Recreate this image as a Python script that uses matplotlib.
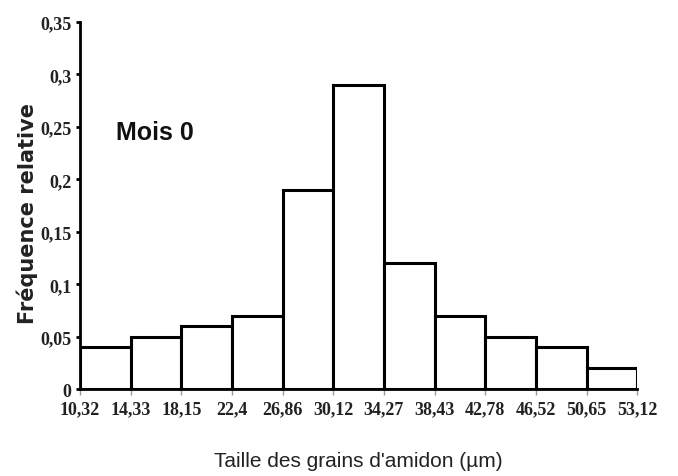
import numpy as np
from matplotlib import pyplot as plt

# bin edges (µm) and relative frequencies
edges = ["10,32", "14,33", "18,15", "22,4", "26,86", "30,12", "34,27",
         "38,43", "42,78", "46,52", "50,65", "53,12"]
freq = [0.04, 0.05, 0.06, 0.07, 0.19, 0.29, 0.12, 0.07, 0.05, 0.04, 0.02]
yticks = [0, 0.05, 0.1, 0.15, 0.2, 0.25, 0.3, 0.35]
ytick_labels = ["0", "0,05", "0,1", "0,15", "0,2", "0,25", "0,3", "0,35"]

fig = plt.figure(figsize=(6.78, 4.77), dpi=100)
ax = fig.add_axes([0.118, 0.182, 0.822, 0.770])

x = np.arange(len(freq))
ax.bar(x, freq, width=1.0, align='edge', color='white',
       edgecolor='black', linewidth=2.2)

ax.set_xlim(0, len(freq))
ax.set_ylim(0, 0.35)
ax.set_xticks(np.arange(len(edges)))
ax.set_xticklabels(edges, family=['Liberation Serif', 'DejaVu Serif'],
                   fontsize=13, fontweight='bold', color='#222222')
ax.set_yticks(yticks)
ax.set_yticklabels(ytick_labels, family=['Liberation Serif', 'DejaVu Serif'],
                   fontsize=13, fontweight='bold', color='#222222')

for s in ['top', 'right']:
    ax.spines[s].set_visible(False)
ax.spines['left'].set_linewidth(2)
ax.spines['bottom'].set_linewidth(2)
ax.tick_params(axis='y', length=3, width=2, pad=3)
ax.tick_params(axis='x', length=4, width=1, color='#999999', pad=4)

ax.set_xlabel("Taille des grains d'amidon (µm)",
              family=['Liberation Sans', 'DejaVu Sans'],
              fontsize=15, color='#222222', labelpad=24)
ax.set_ylabel("Fréquence relative", family=['DejaVu Sans'],
              fontsize=15, fontweight='bold', color='#222222')
ax.yaxis.set_label_coords(-0.075, 0.48)

ax.text(0.065, 0.70, "Mois 0", transform=ax.transAxes,
        family=['Liberation Sans', 'DejaVu Sans'], fontsize=18,
        fontweight='bold', color='#111111', va='center')

fig.savefig("out.png", dpi=100)
